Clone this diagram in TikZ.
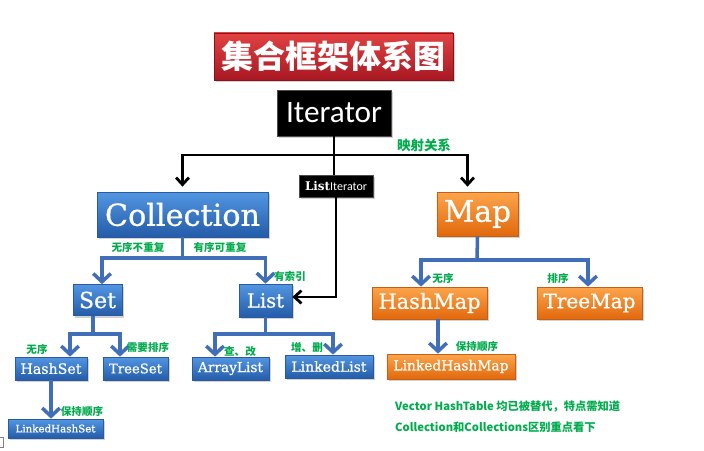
\documentclass[tikz,border=0pt]{standalone}
\usepackage{fontspec}
\usetikzlibrary{arrows.meta,shadows}
\newfontfamily\bxf{DejaVu Serif}[BoldFont={DejaVu Serif}, BoldFeatures={FakeBold=0.8}]
\newfontfamily\bxb{DejaVu Serif Bold}
\newfontfamily\snf{Carlito}
\newfontfamily\cjk{Noto Sans CJK SC}
\newlength\pxu \setlength\pxu{0.03cm}
\newcommand\fitw[2]{\resizebox{#1\pxu}{!}{#2}}
\definecolor{bluetop}{RGB}{82,150,226}
\definecolor{bluebot}{RGB}{36,92,168}
\definecolor{blueedge}{RGB}{44,90,160}
\definecolor{orgtop}{RGB}{252,165,75}
\definecolor{orgbot}{RGB}{226,104,12}
\definecolor{orgedge}{RGB}{196,96,20}
\definecolor{redtop}{RGB}{226,66,66}
\definecolor{redbot}{RGB}{168,24,34}
\definecolor{lgreen}{RGB}{0,172,76}
\definecolor{linkblue}{RGB}{64,110,184}
\tikzset{
  boxbase/.style={rectangle, inner sep=0pt, text=white, line width=0.6pt,
    drop shadow={shadow xshift=1.5pt, shadow yshift=-2pt, opacity=0.35}},
  bbox/.style={boxbase, top color=bluetop, bottom color=bluebot, draw=blueedge},
  obox/.style={boxbase, top color=orgtop, bottom color=orgbot, draw=orgedge},
  rbox/.style={boxbase, top color=redtop, bottom color=redbot, draw=redbot!80!black},
  kbox/.style={boxbase, fill=black, draw=black!70},
  lbl/.style={text=lgreen, font=\cjk\bfseries\fontsize{9}{10}\selectfont, inner sep=0pt},
  blk/.style={line width=2.4pt, draw=black},
  blkarr/.style={blk, -{Straight Barb[length=6pt,width=11pt]}},
  bl/.style={line width=3pt, draw=linkblue},
  blarr/.style={bl, -{Straight Barb[length=7pt,width=15pt]}},
}
\begin{document}
\begin{tikzpicture}[x=0.03cm,y=-0.03cm]
\fill[white] (0,0) rectangle (704,451);
\useasboundingbox (0,0) rectangle (704,451);
% boxes
\node[rbox, minimum width=239\pxu, minimum height=47\pxu] (title) at (333.5,56.5) {\fitw{224}{\cjk\bfseries 集合框架体系图}};
\node[kbox, minimum width=114\pxu, minimum height=46\pxu] (iter) at (334,113) {\fitw{96}{\snf Iterator}};
\node[kbox, minimum width=74\pxu, minimum height=22\pxu] (li) at (336,186) {\fitw{62}{{\bxb List}{\snf Iterator}}};
\node[bbox, minimum width=171\pxu, minimum height=45\pxu] (coll) at (182.5,214.5) {\fitw{155}{\bxf\bfseries Collection}};
\node[bbox, minimum width=49\pxu, minimum height=31\pxu] (set) at (97.5,300) {\fitw{37}{\bxf\bfseries Set}};
\node[bbox, minimum width=53\pxu, minimum height=33\pxu] (list) at (265.5,300.5) {\fitw{37}{\bxf\bfseries List}};
\node[bbox, minimum width=72\pxu, minimum height=23\pxu] (hset) at (51,368.5) {\fitw{61}{\bxf\bfseries HashSet}};
\node[bbox, minimum width=65\pxu, minimum height=23\pxu] (tset) at (135.5,368.5) {\fitw{53}{\bxf\bfseries TreeSet}};
\node[bbox, minimum width=95\pxu, minimum height=19\pxu] (lhset) at (55.5,428.5) {\fitw{80}{\bxf\bfseries LinkedHashSet}};
\node[bbox, minimum width=77\pxu, minimum height=23\pxu] (alist) at (230.5,368.5) {\fitw{65}{\bxf\bfseries ArrayList}};
\node[bbox, minimum width=88\pxu, minimum height=23\pxu] (llist) at (329,366.5) {\fitw{75}{\bxf\bfseries LinkedList}};
\node[obox, minimum width=81\pxu, minimum height=44\pxu] (map) at (477.5,214) {\fitw{67}{\bxf\bfseries Map}};
\node[obox, minimum width=115\pxu, minimum height=32\pxu] (hmap) at (429.5,303) {\fitw{102}{\bxf\bfseries HashMap}};
\node[obox, minimum width=105\pxu, minimum height=32\pxu] (tmap) at (589.5,303) {\fitw{92}{\bxf\bfseries TreeMap}};
\node[obox, minimum width=128\pxu, minimum height=25\pxu] (lhmap) at (451,366.5) {\fitw{115}{\bxf\bfseries LinkedHashMap}};
% black connectors
\coordinate (jI) at (334,155);
\draw[blk] (iter.south) -- (iter.south |- li.north);
\draw[blkarr] (jI) -| ([yshift=5\pxu]coll.north);
\draw[blkarr] (jI) -| ([xshift=-10\pxu,yshift=5\pxu]map.north);
\draw[blkarr] (li.south) |- ([yshift=3.5\pxu]list.east);
% blue connectors
\coordinate (jC) at (182.5,258);
\draw[bl] (coll.south) -- (jC);
\draw[blarr] (jC) -| ([xshift=4.5\pxu]set.north);
\draw[blarr] (jC) -| (list.north);
\coordinate (jS) at (93,334);
\draw[bl] ([xshift=-4.5\pxu]set.south) -- (jS);
\draw[blarr] (jS) -| ([xshift=19\pxu]hset.north);
\draw[blarr] (jS) -| ([xshift=-15.5\pxu]tset.north);
\draw[blarr] (hset.south) -- (hset.south |- lhset.north);
\coordinate (jL) at (265.5,334);
\draw[bl] (list.south) -- (jL);
\draw[blarr] (jL) -| ([xshift=-15.5\pxu]alist.north);
\draw[blarr] (jL) -| ([xshift=4\pxu]llist.north);
\coordinate (jM) at (477,260);
\draw[bl] (map.south) -- (jM);
\draw[blarr] (jM) -| ([xshift=-8.5\pxu]hmap.north);
\draw[blarr] (jM) -| ([xshift=-1.5\pxu]tmap.north);
\draw[blarr] ([xshift=8.5\pxu]hmap.south) -- ([xshift=8.5\pxu]hmap.south |- lhmap.north);
% labels
\node[lbl, font=\cjk\bfseries\fontsize{11.5}{12}\selectfont] (l1) at (424,145) {映射关系};
\node[lbl] (l2) at (138,247) {无序不重复};
\node[lbl] (l3) at (220,247) {有序可重复};
\node[lbl] (l4) at (290,276) {有索引};
\node[lbl] (l5) at (37,349) {无序};
\node[lbl] (l6) at (148,347) {需要排序};
\node[lbl] (l7) at (82,411) {保持顺序};
\node[lbl] (l8) at (240,352) {查、改};
\node[lbl] (l9) at (307,348) {增、删};
\node[lbl] (l10) at (443,278) {无序};
\node[lbl] (l11) at (558,278) {排序};
\node[lbl] (l12) at (477,346) {保持顺序};
\node[lbl, anchor=west, font=\cjk\bfseries\fontsize{9.6}{11}\selectfont] (n1) at (395,407) {Vector HashTable 均已被替代，特点需知道};
\node[lbl, anchor=west, font=\cjk\bfseries\fontsize{9.6}{11}\selectfont] (n2) at (395,427) {Collection和Collections区别重点看下};
% small artifact
\draw[gray, line width=0.5pt] (-4,437) rectangle (3,447);
\end{tikzpicture}
\end{document}
